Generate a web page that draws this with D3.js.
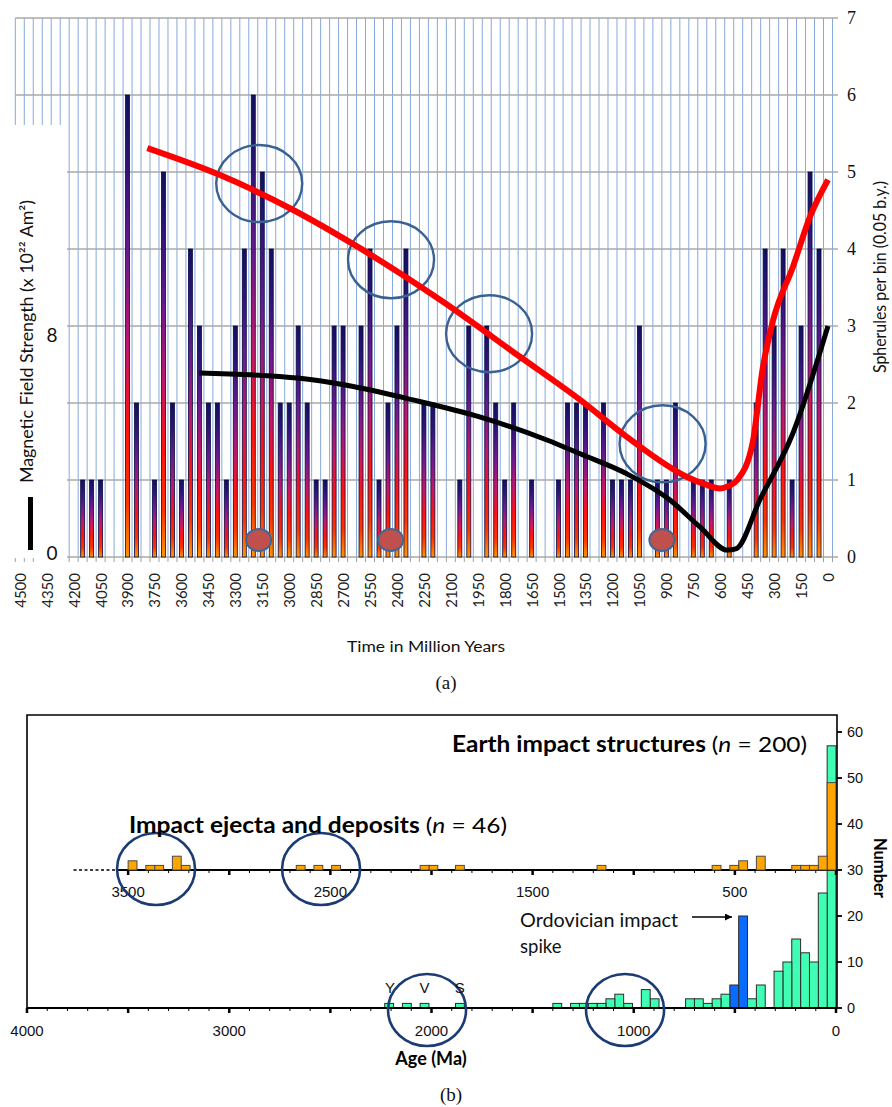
<!DOCTYPE html>
<html>
<head>
<meta charset="utf-8">
<script src="https://cdn.jsdelivr.net/npm/d3@7"></script>
<style>
  html, body { margin: 0; padding: 0; background: #fff; }
  svg { display: block; }
</style>
</head>
<body>
<svg id="chart" width="892" height="1107"></svg>
<script>
// ---------- Panel (a): spherule counts per 0.05 b.y. bin ----------
const ageTicks = [4500, 4350, 4200, 4050, 3900, 3750, 3600, 3450, 3300, 3150, 3000, 2850,
  2700, 2550, 2400, 2250, 2100, 1950, 1800, 1650, 1500, 1350, 1200, 1050, 900, 750, 600,
  450, 300, 150, 0];
const spheruleAxisTicks = [0, 1, 2, 3, 4, 5, 6, 7];
const fieldAxisTicks = [0, 8];

const spheruleAge = [4150, 4100, 4050, 3900, 3850, 3750, 3700, 3650, 3600, 3550, 3500, 3450,
  3400, 3350, 3300, 3250, 3200, 3150, 3100, 3050, 3000, 2950, 2900, 2850, 2800, 2750, 2700,
  2600, 2550, 2500, 2450, 2400, 2350, 2250, 2200, 2050, 2000, 1900, 1850, 1800, 1750, 1650,
  1500, 1450, 1400, 1350, 1250, 1200, 1150, 1100, 1050, 950, 900, 850, 750, 700, 650, 550,
  400, 350, 300, 250, 200, 150, 100, 50];
const spheruleCount = [1, 1, 1, 6, 2, 1, 5, 2, 1, 4, 3, 2,
  2, 1, 3, 4, 6, 5, 4, 2, 2, 3, 2, 1, 1, 3, 3,
  3, 4, 1, 2, 3, 4, 2, 2, 1, 3, 3, 2, 1, 2, 1,
  1, 2, 2, 2, 2, 1, 1, 1, 3, 1, 1, 2, 1, 1, 1, 1,
  2, 4, 3, 4, 1, 3, 5, 4];

// red trend curve (Ma, right-axis units)
const trendAge = [3790, 3385, 2980, 2620, 2160, 1715, 1380, 1120, 785, 690, 600, 555, 505, 420, 362, 305, 195, 100, 0];
const trendValue = [5.31, 4.96, 4.51, 4.03, 3.34, 2.60, 2.04, 1.56, 1.04, 0.95, 0.89, 0.92, 1.00, 1.48, 2.47, 3.08, 3.77, 4.42, 4.90];

// black field-strength curve
const fieldAge = [3500, 2940, 2680, 2310, 1940, 1565, 1380, 1120, 880, 713, 560, 510, 380, 195, 0];
const fieldValue = [2.39, 2.32, 2.23, 2.04, 1.82, 1.52, 1.34, 1.08, 0.74, 0.39, 0.09, 0.11, 0.74, 1.61, 3.0];

// ringed clusters and red markers
const ringAge = [3167, 2433, 1887, 921];
const ringLevel = [4.85, 3.86, 2.90, 1.47];
const markerAge = [3170, 2435, 925];
const markerLevel = [0.22, 0.22, 0.22];

// ---------- Panel (b): impact structure and ejecta histograms ----------
const BIN_MA = 43.75;
const structureBin = [0, 1, 2, 3, 4, 5, 6, 8, 9, 10, 11, 12, 13, 14, 15, 16, 20, 21, 23, 24,
  25, 26, 27, 28, 29, 31, 42, 46, 48, 50];
const structureCount = [57, 25, 10, 12, 15, 10, 8, 5, 2, 20, 5, 3, 2, 1, 2, 2, 2, 4, 1, 3,
  2, 1, 1, 1, 1, 1, 1, 1, 1, 1];
const ordovicianBins = [10, 11];
const ejectaBin = [0, 1, 2, 3, 4, 8, 10, 11, 13, 26, 42, 45, 46, 56, 58, 60, 73, 74, 76, 77, 79];
const ejectaCount = [19, 3, 1, 1, 1, 3, 2, 1, 1, 1, 1, 1, 1, 1, 1, 1, 1, 3, 1, 1, 2];
const EJECTA_BASE = 30;
const ageAxisTicks = [4000, 3000, 2000, 1000, 0];
const ejectaAxisTicks = [3500, 2500, 1500, 500];
const countTicksLow = [0, 10, 20];
const countTicksHigh = [30, 40, 50, 60];
const ejectaAxisStart = 3550;
const ejectaDottedStart = 3770;
const ringsB_age = [3362, 2546, 2022, 1043];
const ringsB_count = [30, 30, 0, 0];
const yvsAge = [2205, 2035, 1860];
const yvsLabel = ["Y", "V", "S"];

const svg = d3.select("#chart");
const SANS = "Lato, 'Open Sans', sans-serif";
const ARIAL = "'Liberation Sans', Arial, sans-serif";
const SERIF = "'Liberation Serif', 'Times New Roman', serif";

// ================= Panel (a) =================
const xA = d3.scaleLinear().domain([4500, 0]).range([19.8, 828]);
const binPx = Math.abs(xA(0) - xA(50));
const yA = d3.scaleLinear().domain([0, 7]).range([557, 18]);
const yField = d3.scaleLinear().domain([0, 8]).range([553, 335]);

const defs = svg.append("defs");
const grad = defs.append("linearGradient").attr("id", "barFill")
  .attr("x1", 0).attr("y1", 0).attr("x2", 0).attr("y2", 1);
[[0, "#12105e"], [0.15, "#2b1577"], [0.35, "#6a1a90"], [0.55, "#c0186c"],
 [0.72, "#ff1212"], [0.88, "#ff3300"], [1, "#ff9400"]].forEach(([o, c]) =>
  grad.append("stop").attr("offset", o).attr("stop-color", c));

const gA = svg.append("g");
const binAges = d3.range(4500, -1, -50);
const edges = binAges.map(a => xA(a) - binPx / 2).concat([xA(0) + binPx / 2]);

gA.append("g").selectAll("line").data(edges).join("line")
  .attr("x1", d => d).attr("x2", d => d)
  .attr("y1", yA(7)).attr("y2", yA(0))
  .attr("stroke", "#86a9da").attr("stroke-width", 1);

gA.append("g").selectAll("line").data(spheruleAxisTicks).join("line")
  .attr("x1", edges[0]).attr("x2", 838)
  .attr("y1", d => yA(d)).attr("y2", d => yA(d))
  .attr("stroke", "#a8a8a8").attr("stroke-width", 1.5);

gA.append("g").selectAll("line").data(edges).join("line")
  .attr("x1", d => d).attr("x2", d => d)
  .attr("y1", yA(0)).attr("y2", yA(0) + 5)
  .attr("stroke", "#a0a0a0").attr("stroke-width", 1);

// blank margin for the field-strength axis
gA.append("rect").attr("x", 0).attr("y", 125).attr("width", 67)
  .attr("height", yA(0) - 125 + 1).attr("fill", "#fff");
gA.append("rect").attr("x", 37).attr("y", yA(0)).attr("width", 30)
  .attr("height", 10).attr("fill", "#fff");

// spherule bars
const barData = spheruleAge.map((a, i) => ({ age: a, n: spheruleCount[i] }));
gA.append("g").selectAll("rect").data(barData).join("rect")
  .attr("x", d => xA(d.age) - 2)
  .attr("width", 4)
  .attr("y", d => yA(d.n))
  .attr("height", d => yA(0) - yA(d.n))
  .attr("fill", "url(#barFill)")
  .attr("stroke", "#0a0a40").attr("stroke-width", 0.8);

// rings around clusters
gA.append("g").selectAll("ellipse").data(ringAge.map((a, i) => ({ age: a, v: ringLevel[i] })))
  .join("ellipse")
  .attr("cx", d => xA(d.age)).attr("cy", d => yA(d.v))
  .attr("rx", 43).attr("ry", 38.5)
  .attr("fill", "none").attr("stroke", "#3a6192").attr("stroke-width", 2.4);

const lineA = d3.line().x(d => xA(d.age)).y(d => yA(d.v)).curve(d3.curveMonotoneX);
gA.append("path")
  .attr("d", lineA(fieldAge.map((a, i) => ({ age: a, v: fieldValue[i] }))))
  .attr("fill", "none").attr("stroke", "#000").attr("stroke-width", 5)
  .attr("stroke-linejoin", "round");
gA.append("path")
  .attr("d", lineA(trendAge.map((a, i) => ({ age: a, v: trendValue[i] }))))
  .attr("fill", "none").attr("stroke", "#ff0000").attr("stroke-width", 6)
  .attr("stroke-linejoin", "round");

gA.append("g").selectAll("ellipse").data(markerAge.map((a, i) => ({ age: a, v: markerLevel[i] })))
  .join("ellipse")
  .attr("cx", d => xA(d.age)).attr("cy", d => yA(d.v))
  .attr("rx", 12.5).attr("ry", 11)
  .attr("fill", "#c0504d").attr("stroke", "#3f6795").attr("stroke-width", 2);

// bottom category labels
const axA = gA.append("g").attr("transform", `translate(0,${yA(0) + 8})`)
  .call(d3.axisBottom(xA).tickValues(ageTicks).tickSize(0).tickFormat(d3.format("d")));
axA.select(".domain").remove();
axA.selectAll("text")
  .attr("transform", "rotate(-90)")
  .attr("x", -8).attr("y", 0).attr("dy", "0.36em")
  .attr("text-anchor", "end")
  .attr("font-family", SANS).attr("font-size", 15).attr("fill", "#222");

// right axis labels
const axR = gA.append("g").attr("transform", "translate(838,0)")
  .call(d3.axisRight(yA).tickValues(spheruleAxisTicks).tickSize(0).tickPadding(9)
    .tickFormat(d3.format("d")));
axR.select(".domain").remove();
axR.selectAll("text").attr("font-family", SERIF).attr("font-size", 18).attr("fill", "#111");

// left (field strength) axis labels
gA.append("g").selectAll("text").data(fieldAxisTicks).join("text")
  .attr("x", 52).attr("y", d => yField(d)).attr("dy", "0.36em")
  .attr("text-anchor", "middle")
  .attr("font-family", SANS).attr("font-size", 19).attr("fill", "#111")
  .text(d => d);
gA.append("rect").attr("x", 28).attr("y", 497).attr("width", 5).attr("height", 53).attr("fill", "#000");

gA.append("text")
  .attr("transform", "translate(33,341.5) rotate(-90)")
  .attr("text-anchor", "middle")
  .attr("font-family", SANS).attr("font-size", 17).attr("fill", "#111")
  .attr("textLength", 283).attr("lengthAdjust", "spacingAndGlyphs")
  .text("Magnetic Field Strength (x 10²² Am²)");

gA.append("text")
  .attr("transform", "translate(886,277) rotate(-90)")
  .attr("text-anchor", "middle")
  .attr("font-family", SANS).attr("font-size", 16.5).attr("fill", "#111")
  .attr("textLength", 192).attr("lengthAdjust", "spacingAndGlyphs")
  .text("Spherules per bin (0.05 b.y.)");

gA.append("text")
  .attr("x", 426).attr("y", 652).attr("text-anchor", "middle")
  .attr("font-family", SANS).attr("font-size", 15.5).attr("fill", "#111")
  .attr("textLength", 158).attr("lengthAdjust", "spacingAndGlyphs")
  .text("Time in Million Years");

gA.append("text")
  .attr("x", 446).attr("y", 689).attr("text-anchor", "middle")
  .attr("font-family", SERIF).attr("font-size", 19).attr("fill", "#111")
  .text("(a)");

// ================= Panel (b) =================
const xB = d3.scaleLinear().domain([4000, 0]).range([27, 836]);
const yB = d3.scaleLinear().domain([0, 63.7]).range([1008, 715]);
const gB = svg.append("g");

// structures histogram
const ordSet = new Set(ordovicianBins);
gB.append("g").selectAll("rect")
  .data(structureBin.map((b, i) => ({ b, n: structureCount[i] })))
  .join("rect")
  .attr("x", d => xB((d.b + 1) * BIN_MA))
  .attr("width", d => xB(d.b * BIN_MA) - xB((d.b + 1) * BIN_MA))
  .attr("y", d => yB(d.n))
  .attr("height", d => yB(0) - yB(d.n))
  .attr("fill", d => ordSet.has(d.b) ? "#0a6cff" : "#40ffb4")
  .attr("stroke", "#2b2b2b").attr("stroke-width", 1);

// ejecta baseline (offset axis)
gB.append("line")
  .attr("x1", xB(ejectaDottedStart)).attr("x2", xB(ejectaAxisStart))
  .attr("y1", yB(EJECTA_BASE)).attr("y2", yB(EJECTA_BASE))
  .attr("stroke", "#000").attr("stroke-width", 1.6).attr("stroke-dasharray", "3,2.5");
gB.append("line")
  .attr("x1", xB(ejectaAxisStart)).attr("x2", xB(0))
  .attr("y1", yB(EJECTA_BASE)).attr("y2", yB(EJECTA_BASE))
  .attr("stroke", "#000").attr("stroke-width", 1.8);
gB.append("g").selectAll("line").data(d3.range(3500, -1, -100)).join("line")
  .attr("x1", d => xB(d)).attr("x2", d => xB(d))
  .attr("y1", yB(EJECTA_BASE)).attr("y2", d => yB(EJECTA_BASE) + (d % 500 === 0 ? 5 : 3))
  .attr("stroke", "#000").attr("stroke-width", d => d % 500 === 0 ? 2.5 : 1);

// ejecta histogram
gB.append("g").selectAll("rect")
  .data(ejectaBin.map((b, i) => ({ b, n: ejectaCount[i] })))
  .join("rect")
  .attr("x", d => xB((d.b + 1) * BIN_MA))
  .attr("width", d => xB(d.b * BIN_MA) - xB((d.b + 1) * BIN_MA))
  .attr("y", d => yB(EJECTA_BASE + d.n))
  .attr("height", d => yB(EJECTA_BASE) - yB(EJECTA_BASE + d.n))
  .attr("fill", "#ffa500")
  .attr("stroke", "#4a4a4a").attr("stroke-width", 1);

gB.append("g").selectAll("text").data(ejectaAxisTicks).join("text")
  .attr("x", d => xB(d)).attr("y", 897).attr("text-anchor", "middle")
  .attr("font-family", ARIAL).attr("font-size", 15).attr("fill", "#111")
  .text(d => d);

// frame
gB.append("path")
  .attr("d", `M${xB(4000)},${yB(0)} V715 H${xB(0) + 1} V${yB(0)}`)
  .attr("fill", "none").attr("stroke", "#000").attr("stroke-width", 1.6);

// bottom age axis
gB.append("line").attr("x1", xB(4000)).attr("x2", xB(0) + 1)
  .attr("y1", yB(0)).attr("y2", yB(0)).attr("stroke", "#000").attr("stroke-width", 2);
gB.append("g").selectAll("line").data(d3.range(4000, -1, -100)).join("line")
  .attr("x1", d => xB(d)).attr("x2", d => xB(d))
  .attr("y1", yB(0)).attr("y2", d => yB(0) + (d % 500 === 0 ? 5 : 3))
  .attr("stroke", "#000").attr("stroke-width", d => d % 500 === 0 ? 2.5 : 1);
gB.append("g").selectAll("text").data(ageAxisTicks).join("text")
  .attr("x", d => xB(d)).attr("y", 1036).attr("text-anchor", "middle")
  .attr("font-family", ARIAL).attr("font-size", 15).attr("fill", "#111")
  .text(d => d);

// right count axis
const countTicks = countTicksLow.concat(countTicksHigh);
gB.append("g").selectAll("line").data(countTicks).join("line")
  .attr("x1", xB(0) + 1).attr("x2", xB(0) + 6)
  .attr("y1", d => yB(d)).attr("y2", d => yB(d))
  .attr("stroke", "#000").attr("stroke-width", 1.8);
gB.append("g").selectAll("text").data(countTicks).join("text")
  .attr("x", 847).attr("y", d => yB(d)).attr("dy", "0.36em")
  .attr("font-family", ARIAL).attr("font-size", 14.5).attr("fill", "#111")
  .text(d => d);

gB.append("text")
  .attr("transform", "translate(874,868) rotate(90)")
  .attr("text-anchor", "middle")
  .attr("font-family", SANS).attr("font-weight", "bold").attr("font-size", 16.5).attr("fill", "#000")
  .text("Number");

// rings
gB.append("g").selectAll("ellipse")
  .data(ringsB_age.map((a, i) => ({ age: a, n: ringsB_count[i] })))
  .join("ellipse")
  .attr("cx", d => xB(d.age)).attr("cy", d => yB(d.n) + (d.n === 0 ? 2 : -1))
  .attr("rx", 39).attr("ry", 36)
  .attr("fill", "none").attr("stroke", "#1b3b74").attr("stroke-width", 2.6);

// Y / V / S markers
gB.append("g").selectAll("text").data(yvsAge.map((a, i) => ({ a, t: yvsLabel[i] }))).join("text")
  .attr("x", d => xB(d.a)).attr("y", 993).attr("text-anchor", "middle")
  .attr("font-family", ARIAL).attr("font-size", 15).attr("fill", "#111")
  .text(d => d.t);

// series titles
const t1 = gB.append("text").attr("x", 452).attr("y", 752)
  .attr("font-family", SANS).attr("font-size", 22).attr("fill", "#000")
  .attr("textLength", 355).attr("lengthAdjust", "spacingAndGlyphs");
t1.append("tspan").attr("font-weight", "bold").text("Earth impact structures ");
t1.append("tspan").text("(");
t1.append("tspan").attr("font-style", "italic").text("n");
t1.append("tspan").text(" = 200)");

const t2 = gB.append("text").attr("x", 129).attr("y", 833)
  .attr("font-family", SANS).attr("font-size", 22).attr("fill", "#000")
  .attr("textLength", 378).attr("lengthAdjust", "spacingAndGlyphs");
t2.append("tspan").attr("font-weight", "bold").text("Impact ejecta and deposits ");
t2.append("tspan").text("(");
t2.append("tspan").attr("font-style", "italic").text("n");
t2.append("tspan").text(" = 46)");

// Ordovician annotation
gB.append("text").attr("x", 520).attr("y", 927)
  .attr("font-family", SANS).attr("font-size", 18.5).attr("fill", "#111")
  .attr("textLength", 158).attr("lengthAdjust", "spacingAndGlyphs")
  .text("Ordovician impact");
gB.append("text").attr("x", 520).attr("y", 953)
  .attr("font-family", SANS).attr("font-size", 18.5).attr("fill", "#111")
  .text("spike");
defs.append("marker").attr("id", "arrowHead")
  .attr("viewBox", "0 0 10 10").attr("refX", 10).attr("refY", 5)
  .attr("markerWidth", 9).attr("markerHeight", 7).attr("markerUnits", "userSpaceOnUse")
  .attr("orient", "auto")
  .append("path").attr("d", "M0,0 L10,5 L0,10 Z").attr("fill", "#000");
gB.append("line").attr("x1", 692).attr("x2", 732).attr("y1", 917).attr("y2", 917)
  .attr("stroke", "#000").attr("stroke-width", 1.5).attr("marker-end", "url(#arrowHead)");

gB.append("text")
  .attr("x", 431).attr("y", 1065).attr("text-anchor", "middle")
  .attr("font-family", SANS).attr("font-weight", "bold").attr("font-size", 18).attr("fill", "#000")
  .text("Age (Ma)");

gB.append("text")
  .attr("x", 451).attr("y", 1101).attr("text-anchor", "middle")
  .attr("font-family", SERIF).attr("font-size", 19).attr("fill", "#111")
  .text("(b)");
</script>
</body>
</html>
